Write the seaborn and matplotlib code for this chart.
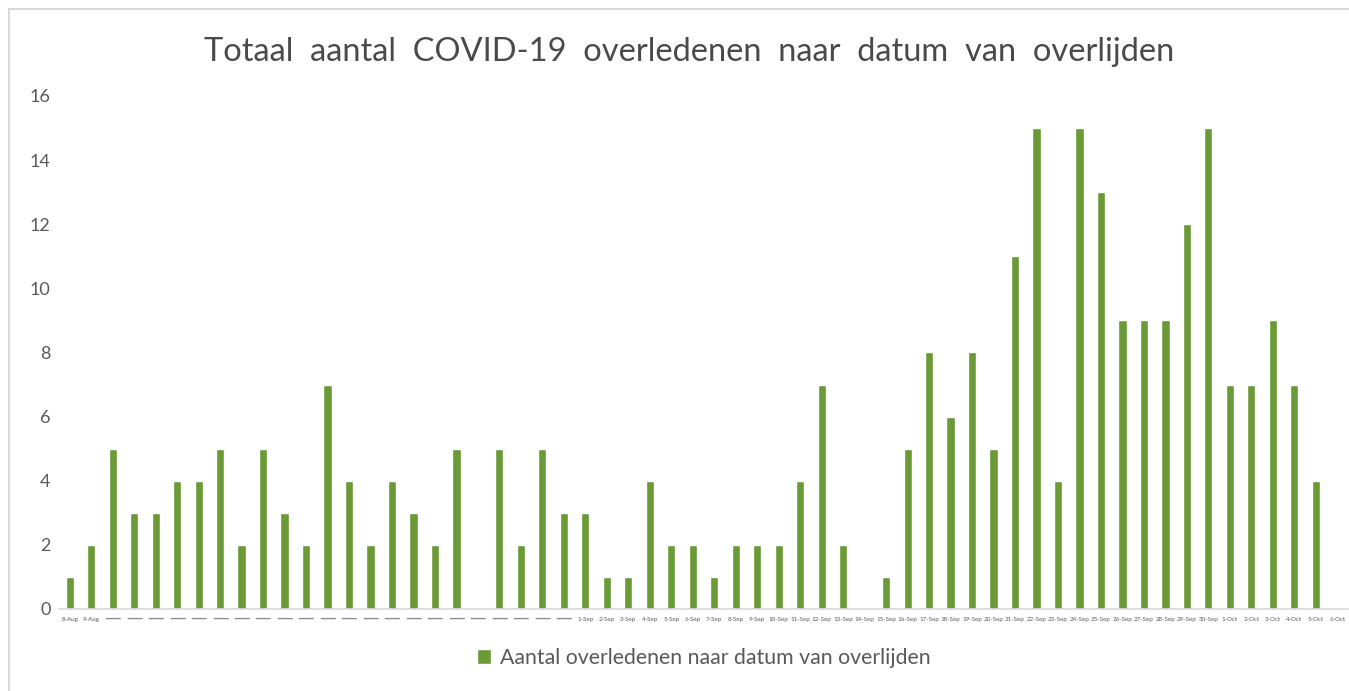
import pandas as pd
import matplotlib.pyplot as plt
import seaborn as sns
import numpy as np

# ------------------------------------------------------------
# Data
# ------------------------------------------------------------
dates = (
    [f"{d}-Aug" for d in range(8, 32)]
    + [f"{d}-Sep" for d in range(1, 31)]
    + [f"{d}-Oct" for d in range(1, 7)]
)
deaths = [1, 2, 5, 3, 3, 4, 4, 5, 2, 5, 3, 2, 7, 4, 2, 4, 3, 2, 5, 0,
          5, 2, 5, 3, 3, 1, 1, 4, 2, 2, 1, 2, 2, 2, 4, 7, 2, 0, 1, 5,
          8, 6, 8, 5, 11, 15, 4, 15, 13, 9, 9, 9, 12, 15, 7, 7, 9, 7, 4, 0]

# the source shows only the first two August labels, the rest as dashes
tick_labels = dates[:2] + ["—"] * 22 + dates[24:]

df = pd.DataFrame({"datum": dates, "aantal": deaths})

green = "#6A9A35"
text_grey = "#595959"

sns.set_style("white")
plt.rcParams["font.family"] = ["Lato", "DejaVu Sans"]

fig = plt.figure(figsize=(13.49, 6.91), dpi=100)
ax = fig.add_axes([0.0437, 0.1187, 0.9556, 0.7424])

sns.barplot(data=df, x="datum", y="aantal", color=green, width=0.38,
            saturation=1, ax=ax, label="Aantal overledenen naar datum van overlijden")

ax.set_xlim(-0.5, len(dates) - 0.5)
ax.set_ylim(0, 16)
ax.set_yticks(range(0, 17, 2))
ax.tick_params(axis="y", labelsize=13, colors=text_grey, length=0, pad=6)
ax.set_xticks(range(len(dates)))
ax.set_xticklabels(tick_labels, fontsize=4.5, color=text_grey)
ax.tick_params(axis="x", length=0, pad=6)
for lbl in ax.get_xticklabels():
    if lbl.get_text() == "—":
        lbl.set_fontsize(12)
        lbl.set_family("DejaVu Sans")
        lbl.set_color("#8c8c8c")
        lbl.set_va("center")
ax.set_xlabel("")
ax.set_ylabel("")

for side in ["top", "right", "left"]:
    ax.spines[side].set_visible(False)
ax.spines["bottom"].set_color("#D9D9D9")
ax.spines["bottom"].set_linewidth(1.2)

fig.text(0.511, 0.925,
         "Totaal  aantal  COVID-19  overledenen  naar  datum  van  overlijden",
         ha="center", va="center", fontsize=23.5, color="#4a4a4a")

ax.legend(loc="center", bbox_to_anchor=(0.5, -0.095), frameon=False,
          fontsize=15.3, labelcolor=text_grey, handlelength=0.7, handleheight=0.7,
          handletextpad=0.4)

# light frame around the chart like the source screenshot
fig.patches.append(plt.Rectangle((0.0067, -0.01), 1.2, 0.997, transform=fig.transFigure,
                                 fill=False, edgecolor="#D9D9D9", linewidth=1.5))

plt.savefig("out.png", dpi=100)
plt.close()
print("Saved: out.png")
